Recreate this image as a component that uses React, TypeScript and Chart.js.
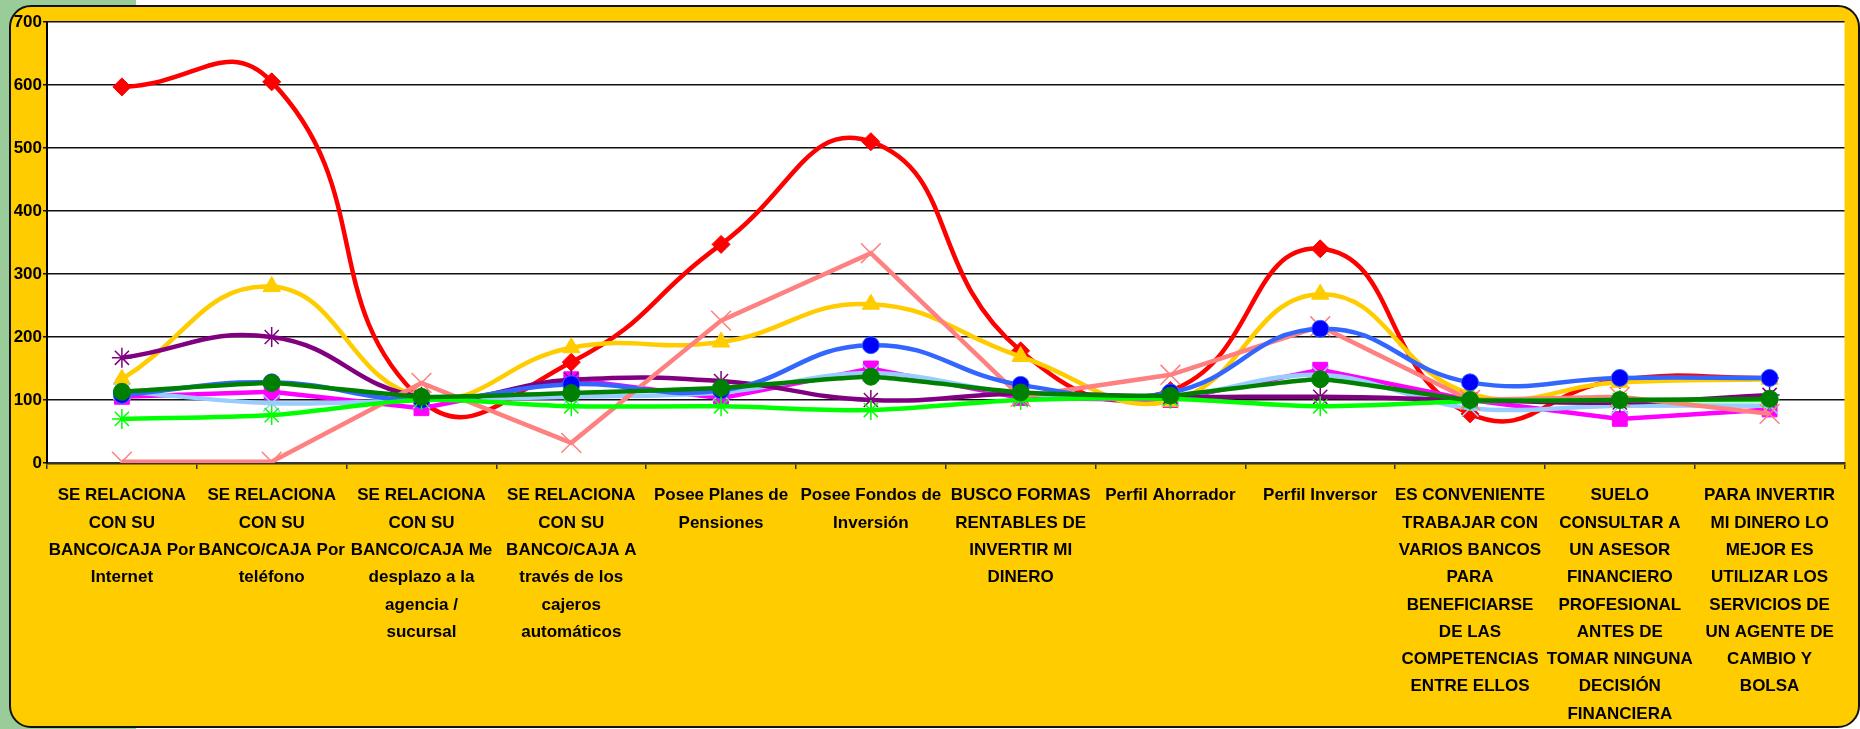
import React, { useEffect, useRef } from "react";
import { Chart, registerables } from "chart.js";

Chart.register(...registerables);

// Survey statements shown along the horizontal axis (pre-wrapped lines)
const categories: string[][] = [
  ["SE RELACIONA", "CON SU", "BANCO/CAJA Por", "Internet"],
  ["SE RELACIONA", "CON SU", "BANCO/CAJA Por", "teléfono"],
  ["SE RELACIONA", "CON SU", "BANCO/CAJA Me", "desplazo a la", "agencia /", "sucursal"],
  ["SE RELACIONA", "CON SU", "BANCO/CAJA A", "través de los", "cajeros", "automáticos"],
  ["Posee Planes de", "Pensiones"],
  ["Posee Fondos de", "Inversión"],
  ["BUSCO FORMAS", "RENTABLES DE", "INVERTIR MI", "DINERO"],
  ["Perfil Ahorrador"],
  ["Perfil Inversor"],
  ["ES CONVENIENTE", "TRABAJAR CON", "VARIOS BANCOS", "PARA", "BENEFICIARSE", "DE LAS", "COMPETENCIAS", "ENTRE ELLOS"],
  ["SUELO", "CONSULTAR A", "UN ASESOR", "FINANCIERO", "PROFESIONAL", "ANTES DE", "TOMAR NINGUNA", "DECISIÓN", "FINANCIERA"],
  ["PARA INVERTIR", "MI DINERO LO", "MEJOR ES", "UTILIZAR LOS", "SERVICIOS DE", "UN AGENTE DE", "CAMBIO Y", "BOLSA"],
];

const yTickValues = [0, 100, 200, 300, 400, 500, 600, 700];

// Index values per segment (100 = average)
const redSeries = [597, 605, 100, 160, 347, 510, 178, 115, 340, 78, 132, 135];
const magentaSeries = [105, 113, 87, 133, 103, 150, 103, 100, 148, 100, 70, 85];
const yellowSeries = [133, 280, 105, 183, 192, 252, 169, 98, 268, 110, 128, 133];
const lightBlueSeries = [114, 95, 100, 105, 112, 143, 110, 105, 140, 87, 91, 91];
const purpleSeries = [167, 200, 105, 132, 130, 100, 110, 105, 105, 100, 96, 108];
const salmonSeries = [2, 2, 127, 32, 226, 333, 105, 140, 217, 100, 105, 78];
const blueSeries = [108, 128, 100, 125, 115, 187, 124, 112, 213, 128, 135, 135];
const brightGreenSeries = [70, 76, 100, 90, 90, 84, 100, 102, 90, 98, 100, 100];
const darkGreenSeries = [113, 127, 105, 111, 119, 137, 112, 107, 133, 100, 100, 102];

const labelFont = "'Liberation Sans', Arial, sans-serif";
const axisFont = "'Liberation Sans', Arial, sans-serif";

export default function App() {
  const canvasRef = useRef<HTMLCanvasElement>(null);

  useEffect(() => {
    const plotBackground = {
      id: "plotBackground",
      beforeDraw(chart: any) {
        const { ctx, chartArea: a } = chart;
        ctx.save();
        ctx.fillStyle = "#ffffff";
        ctx.fillRect(a.left, a.top, a.right - a.left, a.bottom - a.top);
        ctx.restore();
      },
    };

    const mk = (
      data: number[],
      line: string,
      style: string,
      fill: string,
      stroke: string,
      radius: number,
      tension: number,
      pointBorderWidth = 1
    ) => ({
      data,
      borderColor: line,
      borderWidth: 4.5,
      tension,
      pointStyle: style,
      pointRadius: radius,
      pointBackgroundColor: fill,
      pointBorderColor: stroke,
      pointBorderWidth,
      fill: false,
    });

    // first dataset is painted last (on top)
    const datasets = [
      mk(darkGreenSeries, "#008000", "circle", "#008000", "#008000", 8.5, 0.15),
      mk(brightGreenSeries, "#00FF00", "star", "#00FF00", "#00FF00", 10, 0.3, 1.5),
      mk(blueSeries, "#3366FF", "circle", "#0000FF", "#3366FF", 8.5, 0.45),
      mk(salmonSeries, "#FF8080", "crossRot", "#FF8080", "#FF8080", 14, 0, 1.5),
      mk(purpleSeries, "#800080", "star", "#800080", "#800080", 10, 0.45, 1.5),
      mk(lightBlueSeries, "#99CCFF", "crossRot", "#99CCFF", "#99CCFF", 12, 0.35, 1.5),
      mk(yellowSeries, "#FFCC00", "triangle", "#FFCC00", "#FFCC00", 10, 0.45),
      mk(magentaSeries, "#FF00FF", "rect", "#FF00FF", "#FF00FF", 10.5, 0),
      mk(redSeries, "#FF0000", "rectRot", "#FF0000", "#FF0000", 9, 0.5),
    ];

    const chart = new Chart(canvasRef.current as HTMLCanvasElement, {
      type: "line",
      data: { labels: categories as any, datasets: datasets as any },
      plugins: [plotBackground],
      options: {
        animation: false,
        responsive: false,
        maintainAspectRatio: false,
        layout: { padding: { left: 0, top: 22, right: 2, bottom: 0 } },
        plugins: {
          legend: { display: false },
          tooltip: { enabled: false },
          title: { display: false },
        },
        scales: {
          x: {
            type: "category",
            offset: true,
            afterFit: (s: any) => {
              s.height = 266;
            },
            border: { display: true, color: "#333333", width: 2.5 },
            grid: {
              display: true,
              drawOnChartArea: false,
              color: "#333333",
              lineWidth: 1.5,
              tickLength: 6,
              offset: true,
            },
            ticks: {
              autoSkip: false,
              maxRotation: 0,
              minRotation: 0,
              padding: 13,
              color: "#000000",
              font: { family: labelFont, size: 17, weight: "bold", lineHeight: "27.3px" },
            },
          },
          y: {
            min: 0,
            max: 700,
            afterFit: (s: any) => {
              s.width = 47;
            },
            afterBuildTicks: (s: any) => {
              s.ticks = yTickValues.map((v) => ({ value: v }));
            },
            border: { display: true, color: "#000000", width: 2 },
            grid: { color: "#111111", lineWidth: 1.5, tickLength: 4 },
            ticks: {
              padding: 1,
              color: "#000000",
              font: { family: axisFont, size: 17, weight: "bold" },
            },
          },
        },
      } as any,
    });

    return () => chart.destroy();
  }, []);

  return (
    <div
      style={{
        position: "fixed",
        left: 0,
        top: 0,
        width: 1860,
        height: 729,
        background: "#ffffff",
        overflow: "hidden",
      }}
    >
      <div style={{ position: "absolute", left: 0, top: 0, width: 136, height: 729, background: "#99CC99" }} />
      <div
        style={{
          position: "absolute",
          left: 9,
          top: 5,
          width: 1851,
          height: 723,
          boxSizing: "border-box",
          background: "#FFCC00",
          border: "2px solid #111111",
          borderRadius: 22,
        }}
      />
      <canvas
        ref={canvasRef}
        width={1860}
        height={729}
        style={{ position: "absolute", left: 0, top: 0, width: 1860, height: 729 }}
      />
    </div>
  );
}
